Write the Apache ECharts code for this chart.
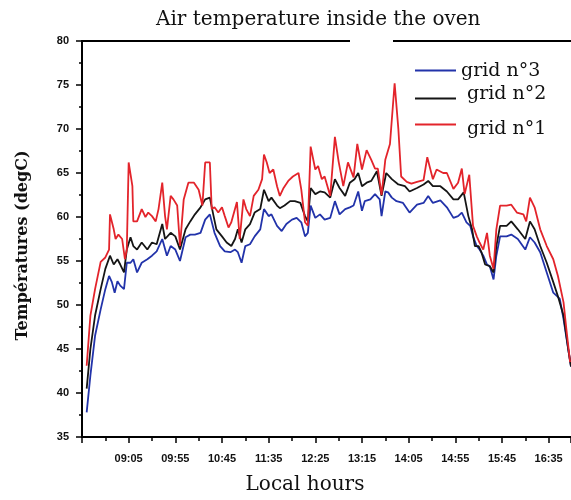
<!DOCTYPE html>
<html>
<head>
<meta charset="utf-8">
<script src="https://cdn.jsdelivr.net/npm/echarts@6/dist/echarts.min.js"></script>
<style>html,body{margin:0;padding:0;background:#fff;}#c{width:571px;height:500px;}</style>
</head>
<body>
<div id="c"></div>
<script>
// Time axis: minutes after 08:15
var startMinutes = 8 * 60 + 15;
var xMax = 524;
var yTicks = [35, 40, 45, 50, 55, 60, 65, 70, 75, 80];

var seriesNames = ['grid n°3', 'grid n°2', 'grid n°1'];

var redT = [5,9,14,20,25,29,30,34,36,39,43,46,48,50,54,55,59,64,68,71,75,79,82,86,89,91,95,98,102,105,109,114,120,125,129,132,137,139,142,146,150,153,157,160,166,169,173,176,180,184,189,193,195,198,201,205,209,212,216,221,226,232,235,239,242,245,250,253,257,260,266,271,275,280,285,291,295,300,305,310,314,317,321,325,330,332,335,339,342,348,353,359,366,370,376,380,387,391,398,403,407,410,415,419,423,426,430,434,437,441,444,448,455,460,466,473,476,480,485,491,498,505,510,516,519,523];
var redV = [43.1,48.8,51.8,54.9,55.4,56.3,60.3,58.6,57.5,58.0,57.5,55.2,56.3,66.2,63.5,59.5,59.5,60.9,60.0,60.5,60.1,59.5,60.9,63.9,60.1,58.6,62.4,62.0,61.3,56.7,62.0,63.9,63.9,63.1,61.3,66.2,66.2,60.9,61.1,60.5,61.1,60.1,58.8,59.4,61.7,57.5,62.0,60.9,60.1,62.4,63.1,64.3,67.1,66.2,65.0,65.4,63.5,62.4,63.3,64.1,64.6,65.0,63.1,59.4,59.0,68.0,65.4,65.8,64.3,64.6,62.4,69.1,66.3,63.5,66.2,64.5,68.3,65.4,67.6,66.5,65.5,65.5,62.5,66.5,68.3,68.4,75.2,70.0,64.6,64.0,63.8,64.0,64.2,66.8,64.3,65.4,65.0,65.0,63.2,63.9,65.5,62.6,64.8,59.0,57.8,57.1,56.3,58.2,55.6,54.1,58.6,61.3,61.3,61.4,60.5,60.3,59.5,62.2,61.1,58.6,56.7,55.2,53.3,50.3,47.3,43.5];

var blackT = [5,9,14,20,25,30,34,38,41,45,48,52,55,59,64,70,75,80,86,89,95,100,105,111,116,121,127,132,137,141,144,150,155,160,164,167,171,175,180,185,191,195,200,203,209,212,217,223,228,234,239,242,245,250,255,260,266,271,276,282,287,292,296,300,305,310,316,321,326,332,339,346,351,359,366,371,376,384,391,398,403,409,414,418,421,425,428,432,437,441,444,448,455,460,467,475,480,485,491,498,505,510,516,521,524];
var blackV = [40.5,45.0,48.8,51.8,54.1,55.6,54.6,55.2,54.6,53.7,56.3,57.7,56.7,56.3,57.1,56.3,57.1,56.9,59.2,57.5,58.2,57.8,56.3,58.6,59.5,60.3,61.1,62.0,62.2,60.1,58.6,57.8,57.1,56.7,57.5,58.6,57.1,58.6,59.2,60.5,60.9,63.1,61.8,62.2,61.3,61.0,61.3,61.8,61.8,61.6,60.1,59.5,63.3,62.6,62.9,62.8,62.2,64.3,63.3,62.4,63.9,64.3,65.0,63.5,63.9,64.1,65.2,62.4,65.0,64.3,63.7,63.5,62.9,63.3,63.7,64.1,63.5,63.5,62.9,62.0,62.0,62.8,60.1,58.6,56.7,56.7,56.0,54.6,54.4,53.7,56.7,59.0,59.0,59.5,58.6,57.5,59.5,58.6,56.7,54.8,52.6,51.0,48.8,45.0,43.0];

var blueT = [5,9,14,20,25,29,32,35,38,41,45,48,52,55,59,64,70,75,80,86,91,95,100,105,111,116,121,127,132,137,142,148,153,159,164,167,171,175,180,185,191,195,200,203,209,214,219,225,230,235,239,242,245,250,255,260,266,271,276,282,287,291,296,300,303,309,314,319,321,325,328,332,337,344,351,359,366,371,376,384,391,398,403,407,412,416,419,423,426,430,434,437,441,444,448,455,460,467,475,480,485,491,498,505,509,512,516,521,524];
var blueV = [37.8,42.0,46.5,49.5,51.8,53.3,52.6,51.4,52.7,52.2,51.8,54.8,54.8,55.2,53.7,54.8,55.2,55.6,56.1,57.5,55.6,56.7,56.3,55.0,57.7,58.0,58.0,58.2,59.7,60.3,58.2,56.7,56.1,56.0,56.3,56.0,54.8,56.7,56.9,57.8,58.6,60.9,60.1,60.3,59.0,58.4,59.2,59.7,59.9,59.4,57.8,58.2,61.3,59.9,60.3,59.7,59.9,61.8,60.3,60.9,61.1,61.3,62.9,60.7,61.8,62.0,62.6,62.0,60.1,62.9,62.8,62.2,61.8,61.6,60.5,61.4,61.6,62.4,61.6,61.9,61.1,59.9,60.1,60.5,59.4,59.0,57.8,56.7,56.3,55.6,54.6,54.4,52.9,55.6,57.8,57.8,58.0,57.5,56.3,57.7,57.1,56.0,53.7,51.4,51.0,50.7,48.4,45.0,43.0];

function zip(t, v) { return t.map(function (x, i) { return [x, v[i]]; }); }
function clock(v) {
  var m = startMinutes + v;
  var h = Math.floor(m / 60), mm = m % 60;
  return (h < 10 ? '0' : '') + h + ':' + (mm < 10 ? '0' : '') + mm;
}

var SERIF = '"DejaVu Serif", "Liberation Serif", serif';
var chart = echarts.init(document.getElementById('c'), null, { renderer: 'canvas' });

// legend line icon: a 2px bar drawn at a given height inside a 41x14 box
function lineIcon(y) {
  return 'path://M0,0 L0.01,0 L0,0.01 Z M41,14 L40.99,14 L41,13.99 Z M0,' + y + ' H41 V' + (y + 2) + ' H0 Z';
}
function legendFor(name, top, iconY, padLeft) {
  return {
    data: [name], left: 415, top: top, padding: 0, orient: 'vertical',
    icon: lineIcon(iconY), itemWidth: 41, itemHeight: 14, selectedMode: false,
    textStyle: { fontFamily: SERIF, fontSize: 19, color: '#111', padding: [0, 0, 0, padLeft] }
  };
}

chart.setOption({
  animation: false,
  backgroundColor: '#ffffff',
  title: {
    text: 'Air temperature inside the oven',
    left: 156, top: 10, padding: 0,
    textStyle: { fontFamily: SERIF, fontSize: 20, fontWeight: 'normal', color: '#111' }
  },
  legend: [
    legendFor(seriesNames[0], 62, 5, 0),
    legendFor(seriesNames[1], 85, 10, 6),
    legendFor(seriesNames[2], 120, 1, 6)
  ],
  grid: { left: 82, right: 0, top: 41, bottom: 62, containLabel: false },
  xAxis: [{
    type: 'value', min: 0, max: xMax, interval: 50,
    name: 'Local hours', nameLocation: 'middle', nameGap: 38,
    nameTextStyle: { fontFamily: SERIF, fontSize: 20, color: '#111', padding: [0, 43, 0, 0] },
    axisLine: { show: true, onZero: false, lineStyle: { color: '#000', width: 2 } },
    axisTick: { show: true, inside: false, length: 6, lineStyle: { color: '#000', width: 1.5 } },
    minorTick: { show: true, splitNumber: 2, length: 4, lineStyle: { color: '#000', width: 1.5 } },
    splitLine: { show: false },
    axisLabel: {
      margin: 16, showMaxLabel: false,
      fontFamily: '"Liberation Sans", Arial, sans-serif', fontWeight: 'bold', fontSize: 11, color: '#111',
      formatter: function (v) { return v === 0 ? '' : clock(v); }
    }
  }, {
    type: 'value', position: 'top', min: 0, max: xMax,
    axisLine: { show: true, onZero: false, lineStyle: { color: '#000', width: 2 } },
    axisTick: { show: false }, axisLabel: { show: false }, splitLine: { show: false }
  }],
  yAxis: {
    type: 'value', min: yTicks[0], max: yTicks[yTicks.length - 1], interval: 5,
    name: 'Températures (degC)', nameLocation: 'middle', nameGap: 51, nameRotate: 90,
    nameTextStyle: { fontFamily: '"DejaVu Serif", serif', fontWeight: 'bold', fontSize: 16, color: '#111', padding: [0, 13, 0, 0] },
    axisLine: { show: true, onZero: false, lineStyle: { color: '#000', width: 2 } },
    axisTick: { show: true, inside: false, length: 6, lineStyle: { color: '#000', width: 1.5 } },
    minorTick: { show: true, splitNumber: 2, length: 3, lineStyle: { color: '#000', width: 1.5 } },
    splitLine: { show: false },
    axisLabel: { margin: 13, fontFamily: '"Liberation Sans", Arial, sans-serif', fontWeight: 'bold', fontSize: 11, color: '#111' }
  },
  graphic: [{
    type: 'rect', left: 350, top: 37, z: 100,
    shape: { width: 43, height: 8 }, style: { fill: '#fff' }
  }],
  series: [
    { name: seriesNames[0], type: 'line', data: zip(blueT, blueV), showSymbol: false, symbol: 'none',
      lineStyle: { color: '#2233aa', width: 1.8 }, itemStyle: { color: '#2233aa' } },
    { name: seriesNames[1], type: 'line', data: zip(blackT, blackV), showSymbol: false, symbol: 'none',
      lineStyle: { color: '#151515', width: 1.8 }, itemStyle: { color: '#151515' } },
    { name: seriesNames[2], type: 'line', data: zip(redT, redV), showSymbol: false, symbol: 'none',
      lineStyle: { color: '#e3242b', width: 1.8 }, itemStyle: { color: '#e3242b' } }
  ]
});
</script>
</body>
</html>
